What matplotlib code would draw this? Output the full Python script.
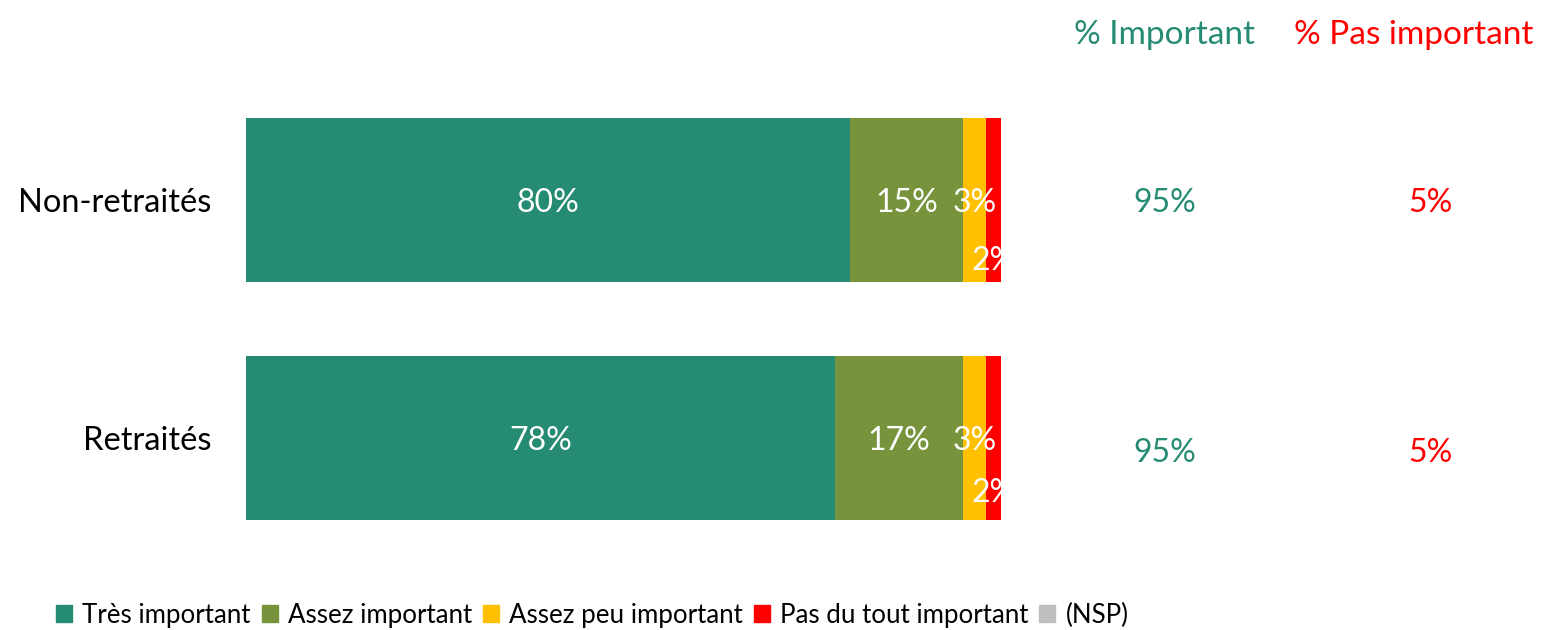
import matplotlib.pyplot as plt
from matplotlib.patches import Patch
from matplotlib.transforms import blended_transform_factory

plt.rcParams['font.family'] = ['Lato', 'DejaVu Sans']

# data
categories = ["Retraités", "Non-retraités"]
tres_important = [78, 80]
assez_important = [17, 15]
assez_peu = [3, 3]
pas_du_tout = [2, 2]
nsp = [0, 0]
pct_important = [95, 95]
pct_pas_important = [5, 5]

series = [tres_important, assez_important, assez_peu, pas_du_tout, nsp]
names = ["Très important", "Assez important", "Assez peu important",
         "Pas du tout important", "(NSP)"]
colors = ["#268B73", "#77933C", "#FFC000", "#FF0000", "#BFBFBF"]

W, H = 1541, 630
fig = plt.figure(figsize=(W / 100, H / 100), dpi=100)
ax = fig.add_axes([246 / W, (H - 557) / H, 755 / W, 476 / H])

y = list(range(len(categories)))
left = [0] * len(categories)
for vals, name, col in zip(series, names, colors):
    ax.barh(y, vals, left=left, height=0.69, color=col, label=name)
    for i, (v, l) in enumerate(zip(vals, left)):
        if v <= 0:
            continue
        dy = 0
        if name == "Pas du tout important":
            dy = -0.244 if i == 1 else -0.218
        ax.text(l + v / 2, y[i] + dy, f"{v}%", ha="center",
                va="center_baseline", color="white", fontsize=23)
    left = [a + b for a, b in zip(left, vals)]

ax.set_xlim(0, 100)
ax.set_ylim(-0.5, 1.5)
ax.set_yticks(y)
ax.set_yticklabels(categories, fontsize=23.5, va="center_baseline")
ax.tick_params(axis="y", length=0, pad=25)
ax.set_xticks([])
for s in ax.spines.values():
    s.set_visible(False)

# right-hand summary columns
tr = blended_transform_factory(fig.transFigure, ax.transData)
green_txt = "#268B73"
for i in y:
    yy = y[i] - 0.05 if i == 0 else y[i]
    ax.text(1165 / W, yy, f"{pct_important[i]}%", transform=tr, ha="center",
            va="center_baseline", color=green_txt, fontsize=23)
    ax.text(1430 / W, yy, f"{pct_pas_important[i]}%", transform=tr,
            ha="center", va="center_baseline", color="#FF0000", fontsize=23)

fig.text(1165 / W, (H - 32) / H, "% Important", ha="center",
         va="center_baseline", color=green_txt, fontsize=24)
fig.text(1414 / W, (H - 32) / H, "% Pas important", ha="center",
         va="center_baseline", color="#FF0000", fontsize=24)

handles = [Patch(color=c, label=n) for c, n in zip(colors, names)]
fig.legend(handles=handles, loc="center left", bbox_to_anchor=(56 / W, 15 / H),
           ncol=5, frameon=False, fontsize=18.6, handlelength=0.62,
           handleheight=0.62, handletextpad=0.4, columnspacing=0.42,
           borderpad=0, borderaxespad=0)

fig.savefig("out.png", dpi=100)
